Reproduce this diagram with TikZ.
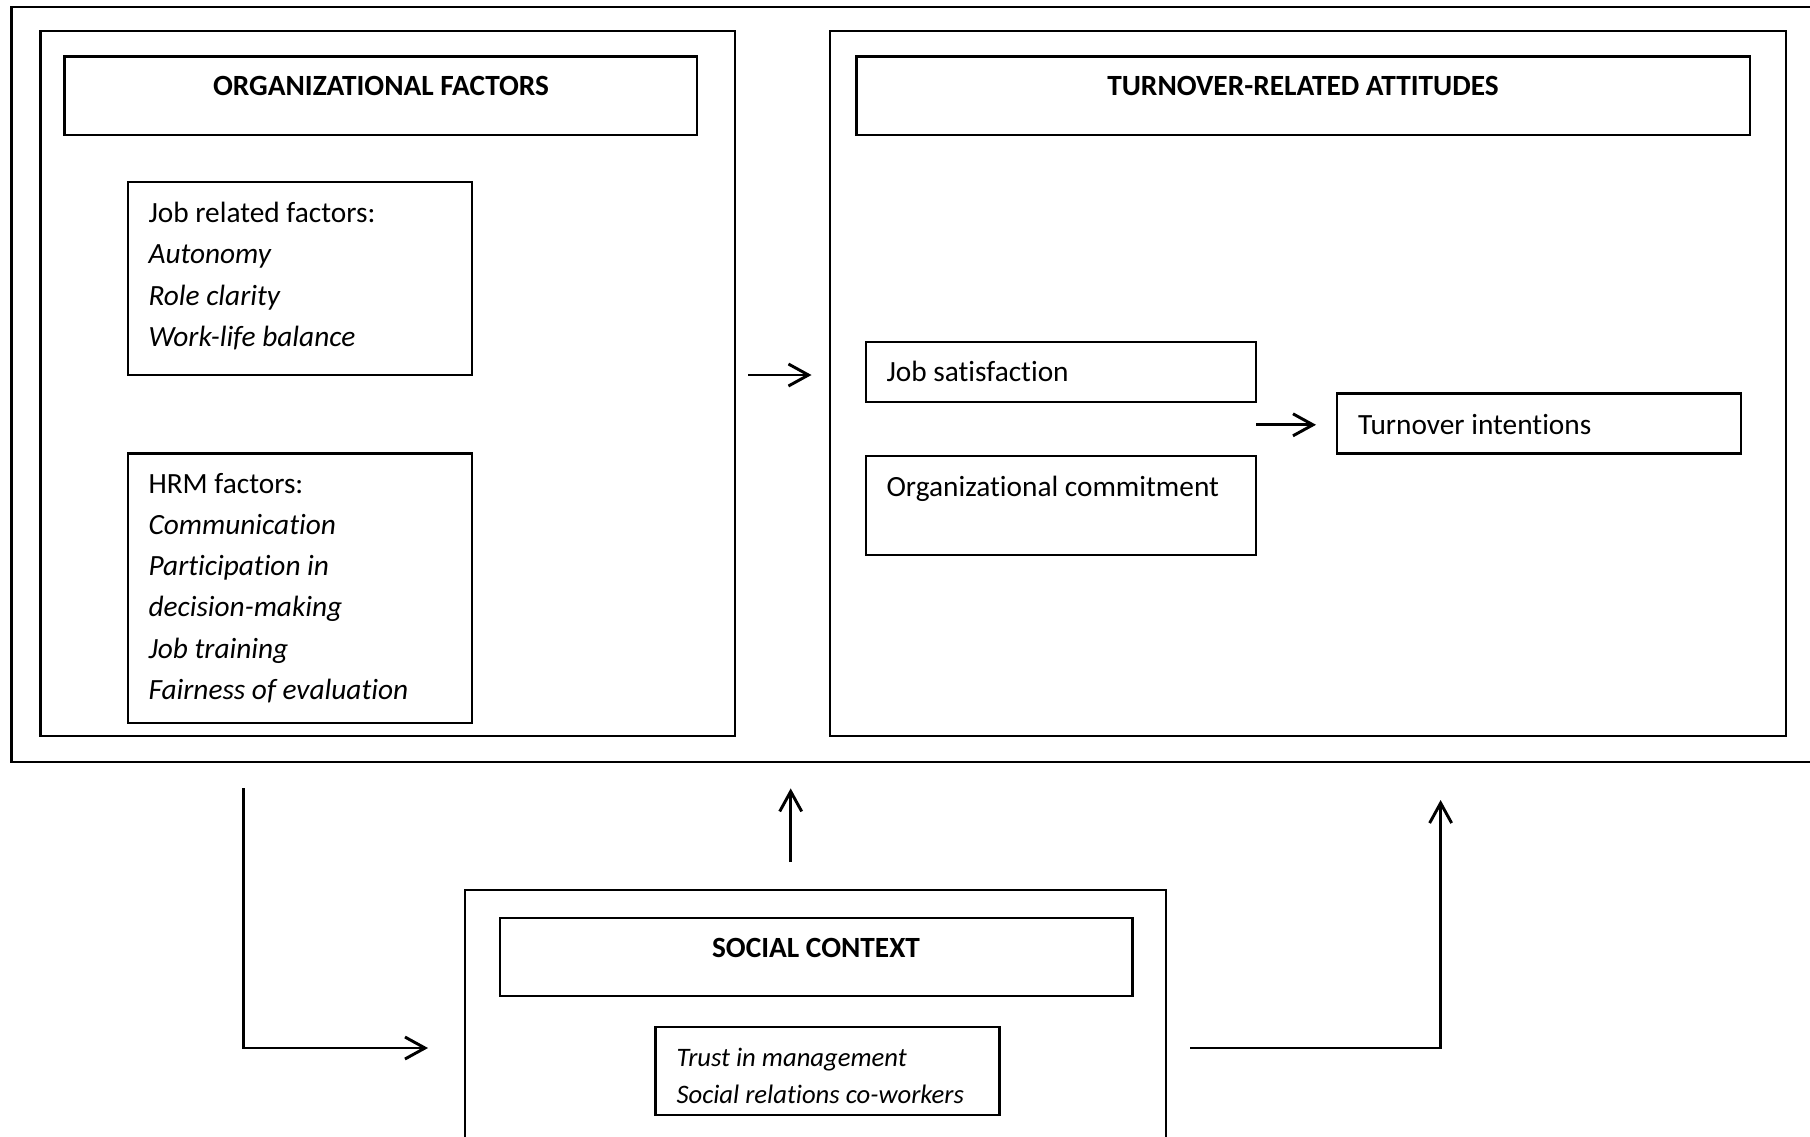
\documentclass[tikz,border=0pt]{standalone}
\usepackage{fontspec}
\setmainfont[Ligatures={NoCommon,NoContextual}]{Carlito}
\usetikzlibrary{arrows.meta}
\begin{document}
\begin{tikzpicture}[x=0.375pt,y=-0.375pt,
  box/.style={draw, line width=0.85pt, inner sep=0pt, outer sep=0pt, anchor=north west},
  txt/.style={anchor=base west, inner sep=0pt, font=\fontsize{11pt}{13pt}\selectfont},
  itxt/.style={anchor=base west, inner sep=0pt, font=\fontsize{11pt}{13pt}\selectfont\itshape},
  ttl/.style={anchor=base, inner sep=0pt, font=\fontsize{11pt}{13pt}\selectfont\bfseries},
  stxt/.style={anchor=base west, inner sep=0pt, font=\fontsize{10pt}{12pt}\selectfont\itshape},
  arr/.style={line width=1.1pt, -{Straight Barb[length=7.5pt,width=8.25pt]}},
]
\clip (0,0) rectangle (1810,1136);
% outer frame
\node[box, line width=1.1pt, minimum width=681.94pt, minimum height=283.13pt] (outer) at (11.5,7) {};
% left container
\node[box, minimum width=260.48pt, minimum height=264.38pt] (left) at (40.4,31) {};
\node[box, minimum width=237.15pt, minimum height=29.4pt] (orgt) at (64.6,56.6) {};
\node[ttl] (orgtt) at (381,95) {ORGANIZATIONAL FACTORS};
\node[box, minimum width=129pt, minimum height=72.38pt] (job) at (128,182) {};
\node[txt]  (j1) at (148,222)   {Job related factors:};
\node[itxt] (j2) at (148,263.5) {Autonomy};
\node[itxt] (j3) at (148,305)   {Role clarity};
\node[itxt] (j4) at (148,346.5) {Work-life balance};
\node[box, minimum width=129pt, minimum height=101.03pt] (hrm) at (128,453.6) {};
\node[txt]  (h1) at (148,493)   {HRM factors:};
\node[itxt] (h2) at (148,534.3) {Communication};
\node[itxt] (h3) at (148,575.6) {Participation in};
\node[itxt] (h4) at (148,616.9) {decision-making};
\node[itxt] (h5) at (148,658.2) {Job training};
\node[itxt] (h6) at (148,699.5) {Fairness of evaluation};
% right container
\node[box, minimum width=358.5pt, minimum height=264.38pt] (right) at (830,31) {};
\node[box, minimum width=335.06pt, minimum height=29.4pt] (turt) at (856.5,56.6) {};
\node[ttl] (turtt) at (1303,95) {TURNOVER-RELATED ATTITUDES};
\node[box, minimum width=146.25pt, minimum height=22.5pt] (js) at (866,341.7) {};
\node[txt] (jst) at (886,381.5) {Job satisfaction};
\node[box, minimum width=146.25pt, minimum height=37.13pt] (oc) at (866,456) {};
\node[txt] (oct) at (886,496.5) {Organizational commitment};
\node[box, minimum width=151.5pt, minimum height=22.5pt] (ti) at (1336.7,393.6) {};
\node[txt] (tit) at (1357.5,434) {Turnover intentions};
% social context
\node[box, minimum width=262.88pt, minimum height=101.25pt] (soc) at (465,890) {};
\node[box, minimum width=237.15pt, minimum height=29.36pt] (soct) at (500,917.7) {};
\node[ttl] (soctt) at (816,957) {SOCIAL CONTEXT};
\node[box, minimum width=129pt, minimum height=33pt] (tr) at (655.6,1027) {};
\node[stxt] (tr1) at (676,1066.5) {Trust in management};
\node[stxt] (tr2) at (676,1103) {Social relations co-workers};
% arrows
\coordinate (a1s) at (748,375);
\coordinate (a1e) at (811.5,375);
\draw[arr] (a1s) -- (a1e);
\coordinate (a2e) at (1316,424.8);
\draw[arr] (js.east |- a2e) -- (a2e);
\coordinate (l1) at (243.6,788.4);
\coordinate (l2) at (428,1048);
\draw[arr] (l1) |- (l2);
\coordinate (m1) at (790.7,862);
\coordinate (m2) at (790.7,788.4);
\draw[arr] (m1) -- (m2);
\coordinate (r1) at (1190,1048);
\coordinate (r2) at (1440.6,800);
\draw[arr] (r1) -| (r2);
\end{tikzpicture}
\end{document}
